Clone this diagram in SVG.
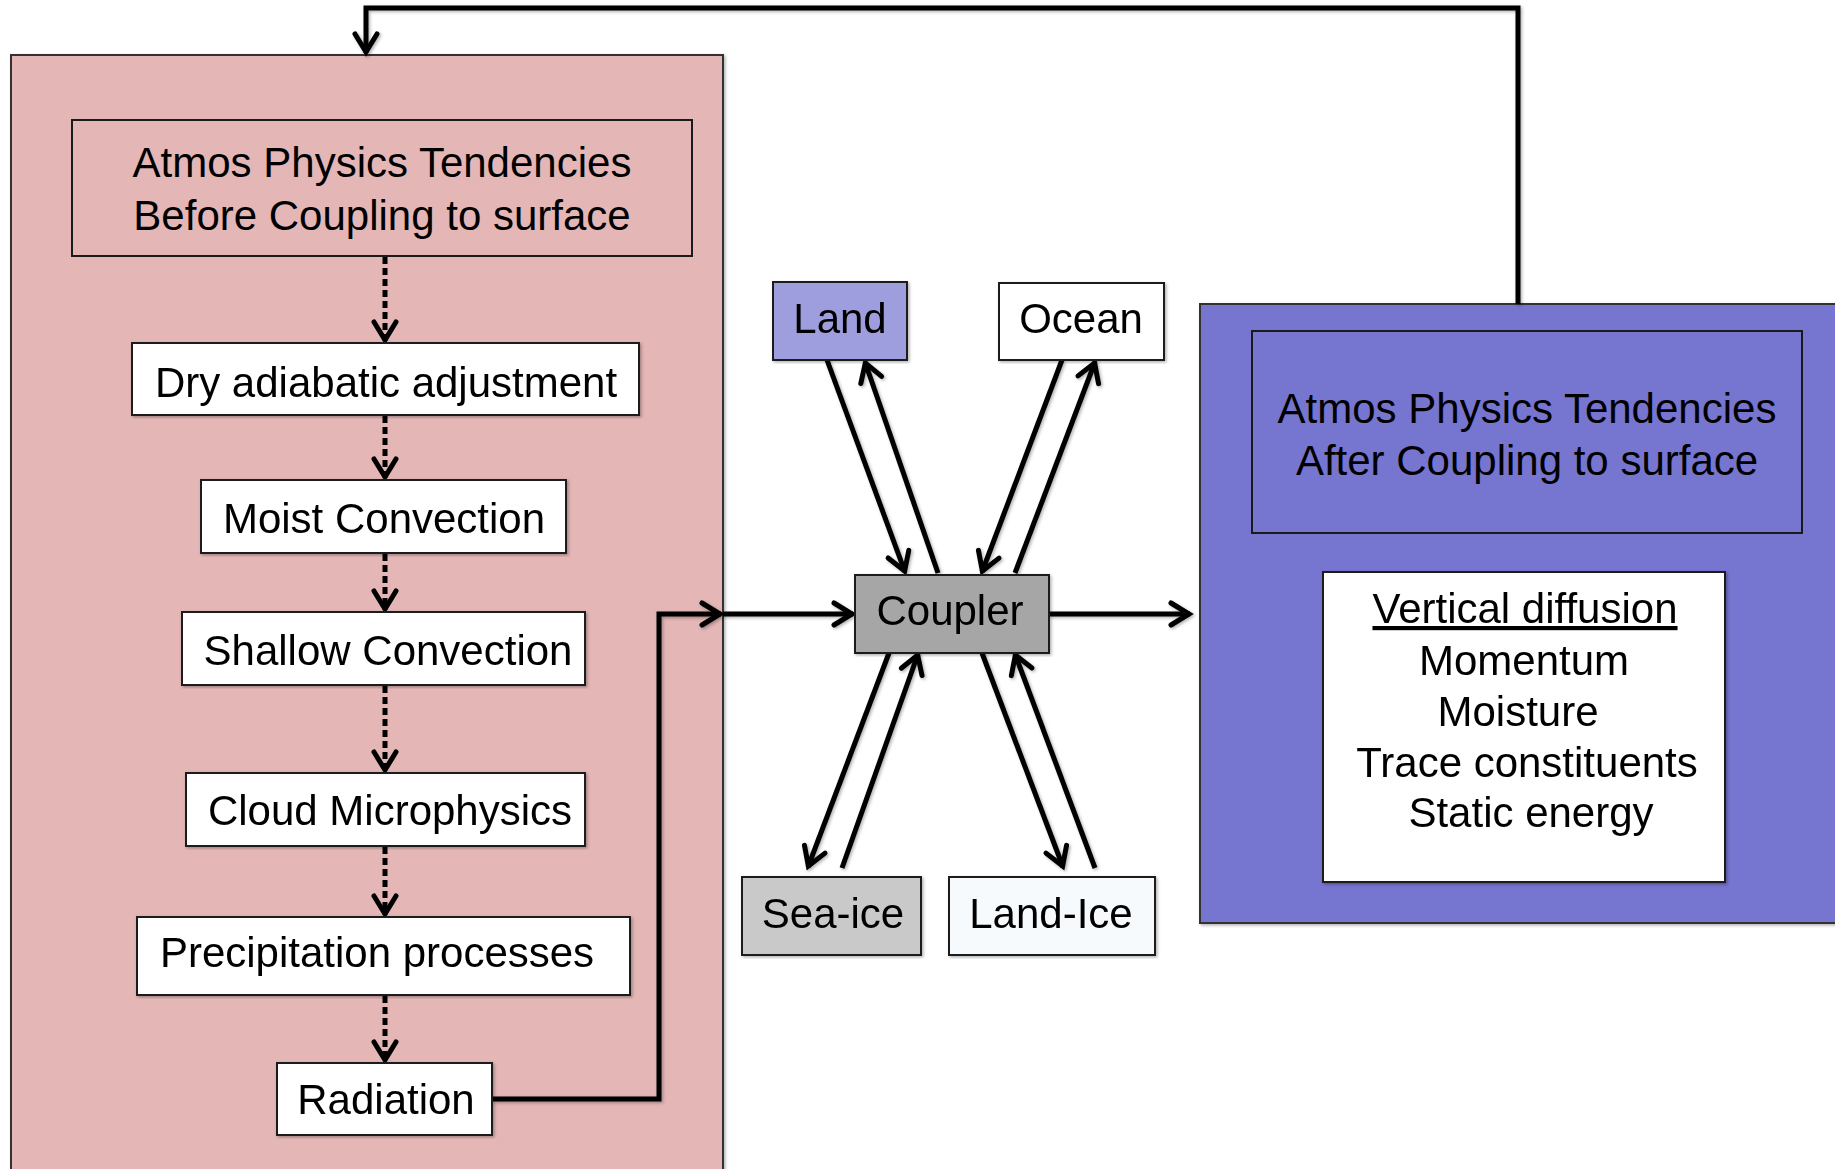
<svg xmlns="http://www.w3.org/2000/svg" width="1835" height="1169" viewBox="0 0 1835 1169">
  <style>
    text { font-family: "Liberation Sans", Arial, sans-serif; font-size: 42px; fill: #000; text-anchor: middle; }
    .box { stroke: #1a1a1a; stroke-width: 2; }
    .frame { stroke: #333; stroke-width: 2; }
    .solid { fill: none; stroke: #000; stroke-width: 5; }
    .dotted { fill: none; stroke: #000; stroke-width: 5; stroke-dasharray: 7 4; }
  </style>
  <defs>
    <marker id="chev" markerUnits="userSpaceOnUse" viewBox="-24 -14 28 28" markerWidth="28" markerHeight="28" refX="0" refY="0" orient="auto">
      <path d="M-19,-11 L-1,0 L-19,11" fill="none" stroke="#000" stroke-width="5" stroke-linejoin="miter" stroke-linecap="round"/>
    </marker>
    <filter id="shadow" x="-5%" y="-5%" width="110%" height="110%">
      <feDropShadow dx="1.5" dy="1.5" stdDeviation="1.5" flood-color="#000" flood-opacity="0.3"/>
    </filter>
  </defs>

  <rect width="1835" height="1169" fill="#fff"/>

  <!-- containers -->
  <g id="before-coupling-panel" filter="url(#shadow)">
    <rect class="frame" x="11" y="55" width="712" height="1130" fill="#E4B6B6"/>
  </g>
  <g id="after-coupling-panel" filter="url(#shadow)">
    <rect class="frame" x="1200" y="304" width="650" height="619" fill="#7675D0"/>
  </g>

  <!-- connectors -->
  <g id="connectors">
    <g filter="url(#shadow)">
      <path class="solid" stroke-width="4" d="M1518,304 V8 H366 V53" marker-end="url(#chev)"/>
      <path class="solid" d="M492,1099 H659 V614 H721" marker-end="url(#chev)"/>
      <path class="solid" d="M723,614 H853" marker-end="url(#chev)"/>
      <path class="solid" d="M1049,614 H1190" marker-end="url(#chev)"/>
      <!-- land -->
      <path class="solid" d="M827,360 L905,572" marker-end="url(#chev)"/>
      <path class="solid" d="M938,573 L865,362" marker-end="url(#chev)"/>
      <!-- ocean -->
      <path class="solid" d="M1062,360 L982,572" marker-end="url(#chev)"/>
      <path class="solid" d="M1015,573 L1095,362" marker-end="url(#chev)"/>
      <!-- sea-ice -->
      <path class="solid" d="M889,653 L808,867" marker-end="url(#chev)"/>
      <path class="solid" d="M842,868 L918,654" marker-end="url(#chev)"/>
      <!-- land-ice -->
      <path class="solid" d="M982,653 L1063,867" marker-end="url(#chev)"/>
      <path class="solid" d="M1095,868 L1015,654" marker-end="url(#chev)"/>
    </g>
    <!-- physics sequence -->
    <path class="dotted" d="M385,257 V341" marker-end="url(#chev)"/>
    <path class="dotted" d="M385,416 V478" marker-end="url(#chev)"/>
    <path class="dotted" d="M385,554 V610" marker-end="url(#chev)"/>
    <path class="dotted" d="M385,686 V771" marker-end="url(#chev)"/>
    <path class="dotted" d="M385,847 V915" marker-end="url(#chev)"/>
    <path class="dotted" d="M385,996 V1061" marker-end="url(#chev)"/>
  </g>

  <!-- left column nodes -->
  <g id="atmos-before">
    <rect class="box" x="72" y="120" width="620" height="136" fill="none"/>
    <text x="382" y="177">Atmos Physics Tendencies</text>
    <text x="382" y="230">Before Coupling to surface</text>
  </g>
  <g id="dry-adiabatic" filter="url(#shadow)">
    <rect class="box" x="132" y="343" width="507" height="72" fill="#fff"/>
    <text x="386" y="397">Dry adiabatic adjustment</text>
  </g>
  <g id="moist-convection" filter="url(#shadow)">
    <rect class="box" x="201" y="480" width="365" height="73" fill="#fff"/>
    <text x="384" y="533">Moist Convection</text>
  </g>
  <g id="shallow-convection" filter="url(#shadow)">
    <rect class="box" x="182" y="612" width="403" height="73" fill="#fff"/>
    <text x="388" y="665">Shallow Convection</text>
  </g>
  <g id="cloud-microphysics" filter="url(#shadow)">
    <rect class="box" x="186" y="773" width="399" height="73" fill="#fff"/>
    <text x="390" y="825">Cloud Microphysics</text>
  </g>
  <g id="precipitation" filter="url(#shadow)">
    <rect class="box" x="137" y="917" width="493" height="78" fill="#fff"/>
    <text x="377" y="967">Precipitation processes</text>
  </g>
  <g id="radiation" filter="url(#shadow)">
    <rect class="box" x="277" y="1063" width="215" height="72" fill="#fff"/>
    <text x="386" y="1114">Radiation</text>
  </g>

  <!-- surface components -->
  <g id="coupler" filter="url(#shadow)">
    <rect class="box" x="855" y="575" width="194" height="78" fill="#A6A6A6"/>
    <text x="950" y="625">Coupler</text>
  </g>
  <g id="land" filter="url(#shadow)">
    <rect class="box" x="773" y="282" width="134" height="78" fill="#9E9EDE"/>
    <text x="840" y="333">Land</text>
  </g>
  <g id="ocean" filter="url(#shadow)">
    <rect class="box" x="999" y="283" width="165" height="77" fill="#fff"/>
    <text x="1081" y="333">Ocean</text>
  </g>
  <g id="sea-ice" filter="url(#shadow)">
    <rect class="box" x="742" y="877" width="179" height="78" fill="#C9C9C9"/>
    <text x="833" y="928">Sea-ice</text>
  </g>
  <g id="land-ice" filter="url(#shadow)">
    <rect class="box" x="949" y="877" width="206" height="78" fill="#F7FAFC"/>
    <text x="1051" y="928">Land-Ice</text>
  </g>

  <!-- right column nodes -->
  <g id="atmos-after">
    <rect class="box" x="1252" y="331" width="550" height="202" fill="none"/>
    <text x="1527" y="423">Atmos Physics Tendencies</text>
    <text x="1527" y="475">After Coupling to surface</text>
  </g>
  <g id="vertical-diffusion" filter="url(#shadow)">
    <rect class="box" x="1323" y="572" width="402" height="310" fill="#fff"/>
    <text x="1525" y="623" text-decoration="underline">Vertical diffusion</text>
    <text x="1524" y="675">Momentum</text>
    <text x="1518" y="726">Moisture</text>
    <text x="1527" y="777">Trace constituents</text>
    <text x="1531" y="827">Static energy</text>
  </g>
</svg>
